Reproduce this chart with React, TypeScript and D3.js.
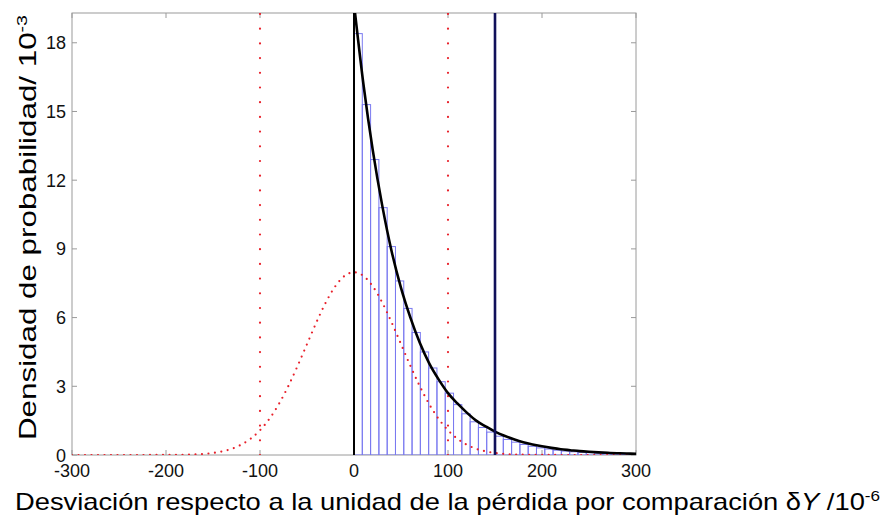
import React from "react";
import * as d3 from "d3";

// ---- data ----
const xTicks = [-300, -200, -100, 0, 100, 200, 300];
const yTicks = [0, 3, 6, 9, 12, 15, 18];

// histogram bins: width and heights (density, 10^-3)
const binStart = 0;
const binWidth = 300 / 34;
const binHeights = [
  18.4, 15.3, 12.9, 10.8, 9.1, 7.6, 6.4, 5.35, 4.5, 3.8, 3.2, 2.7, 2.2, 1.8,
  1.45, 1.2, 1.0, 0.82, 0.68, 0.56, 0.46, 0.38, 0.31, 0.26, 0.21, 0.17, 0.14,
  0.12, 0.1, 0.08, 0.065, 0.055, 0.045, 0.035,
];

// black exponential density curve
const expX = [0, 10, 20, 30, 40, 50, 60, 70, 80, 90, 100, 110, 120, 130, 140, 150, 160, 170, 180, 190, 200, 210, 220, 230, 240, 250, 260, 270, 280, 290, 300];
const expY = [19.7, 16.2, 13.3, 10.9, 8.9, 7.3, 6.0, 4.9, 4.0, 3.3, 2.7, 2.25, 1.85, 1.5, 1.25, 1.02, 0.84, 0.69, 0.56, 0.46, 0.38, 0.31, 0.25, 0.21, 0.17, 0.14, 0.115, 0.095, 0.078, 0.064, 0.052];

// red dotted gaussian curve
const gaussX = [-300, -250, -200, -190, -180, -170, -160, -150, -140, -130, -120, -110, -100, -90, -80, -70, -60, -50, -40, -30, -20, -10, 0, 10, 20, 30, 40, 50, 60, 70, 80, 90, 100, 110, 120, 130, 140, 150, 160, 170, 180, 190, 200, 250, 300];
const gaussY = [0, 0, 0.003, 0.006, 0.012, 0.024, 0.047, 0.09, 0.16, 0.27, 0.45, 0.71, 1.08, 1.58, 2.22, 3.0, 3.89, 4.84, 5.79, 6.66, 7.36, 7.82, 7.98, 7.82, 7.36, 6.66, 5.79, 4.84, 3.89, 3.0, 2.22, 1.58, 1.08, 0.71, 0.45, 0.27, 0.16, 0.09, 0.047, 0.024, 0.012, 0.006, 0.003, 0, 0];

// reference vertical lines
const redLimits = [-100, 100];
const blackLine = 0;
const navyLine = 150;

const xDomain = [-300, 300];
const yDomain = [0, 19.3];

export default function App() {
  const W = 894, H = 519;
  const L = 72, R = 636, T = 13, B = 455;
  const x = d3.scaleLinear().domain(xDomain).range([L, R]);
  const y = d3.scaleLinear().domain(yDomain).range([B, T]);

  const line = d3
    .line<[number, number]>()
    .x((d) => x(d[0]))
    .y((d) => y(d[1]))
    .curve(d3.curveMonotoneX);

  const expPath = line(expX.map((v, i) => [v, expY[i]] as [number, number])) || "";
  const gaussPath = line(gaussX.map((v, i) => [v, gaussY[i]] as [number, number])) || "";

  const axisColor = "#9a9a9a";
  const font = "'Liberation Sans', Arial, sans-serif";
  const tickLen = 5;

  return (
    <svg
      width={W}
      height={H}
      style={{ position: "absolute", left: 0, top: 0, background: "#fff" }}
      fontFamily={font}
    >
      <defs>
        <clipPath id="plot">
          <rect x={L} y={T} width={R - L} height={B - T} />
        </clipPath>
      </defs>
      <rect x={0} y={0} width={W} height={H} fill="#fff" />

      {/* frame */}
      <rect x={L} y={T} width={R - L} height={B - T} fill="none" stroke={axisColor} strokeWidth={1} />

      {/* ticks */}
      {xTicks.map((t) => (
        <g key={"xt" + t}>
          <line x1={x(t)} x2={x(t)} y1={B} y2={B - tickLen} stroke={axisColor} />
          <line x1={x(t)} x2={x(t)} y1={T} y2={T + tickLen} stroke={axisColor} />
        </g>
      ))}
      {yTicks.map((t) => (
        <g key={"yt" + t}>
          <line x1={L} x2={L + tickLen} y1={y(t)} y2={y(t)} stroke={axisColor} />
          <line x1={R} x2={R - tickLen} y1={y(t)} y2={y(t)} stroke={axisColor} />
        </g>
      ))}

      <g clipPath="url(#plot)">
        {/* histogram */}
        {binHeights.map((h, i) => {
          const x0 = x(binStart + i * binWidth);
          const x1 = x(binStart + (i + 1) * binWidth);
          return (
            <rect
              key={"b" + i}
              x={x0}
              y={y(h)}
              width={x1 - x0}
              height={y(0) - y(h)}
              fill="none"
              stroke="#7a7af0"
              strokeWidth={1}
            />
          );
        })}

        {/* gaussian (red dotted) */}
        <path
          d={gaussPath}
          fill="none"
          stroke="#e8202a"
          strokeWidth={2.2}
          strokeDasharray="0 6.5"
          strokeLinecap="round"
        />

        {/* red dotted limit lines */}
        {redLimits.map((v) => (
          <line
            key={"r" + v}
            x1={x(v)}
            x2={x(v)}
            y1={y(0)}
            y2={T}
            stroke="#e8202a"
            strokeWidth={2.2}
            strokeDasharray="0 14.7"
            strokeLinecap="round"
          />
        ))}

        {/* black vertical at 0 */}
        <line x1={x(blackLine)} x2={x(blackLine)} y1={y(0)} y2={T} stroke="#000" strokeWidth={2} />

        {/* exponential curve */}
        <path d={expPath} fill="none" stroke="#000" strokeWidth={2.6} />

        {/* navy vertical */}
        <line x1={x(navyLine)} x2={x(navyLine)} y1={y(0)} y2={T} stroke="#10105a" strokeWidth={2.6} />
      </g>

      {/* tick labels */}
      {yTicks.map((t) => (
        <text key={"yl" + t} x={L - 6} y={y(t) + 6.5} fontSize={18} textAnchor="end" fill="#111">
          {t}
        </text>
      ))}
      {xTicks.map((t) => (
        <text key={"xl" + t} x={x(t)} y={477} fontSize={18} textAnchor="middle" fill="#111">
          {t}
        </text>
      ))}

      {/* y-axis label */}
      <text
        transform={`translate(36, 440) rotate(-90)`}
        fontSize={24}
        textAnchor="start"
        fill="#000"
        textLength={425}
        lengthAdjust="spacingAndGlyphs"
      >
        Densidad de probabilidad/ 10
        <tspan dy={-9} fontSize={15}>-3</tspan>
      </text>

      {/* x-axis label */}
      <text
        x={15}
        y={510}
        fontSize={24}
        textAnchor="start"
        fill="#000"
        textLength={865}
        lengthAdjust="spacingAndGlyphs"
      >
        Desviación respecto a la unidad de la pérdida por comparación δ
        <tspan fontStyle="italic">Y</tspan>
        {" /10"}
        <tspan dy={-9} fontSize={15}>-6</tspan>
      </text>
    </svg>
  );
}
